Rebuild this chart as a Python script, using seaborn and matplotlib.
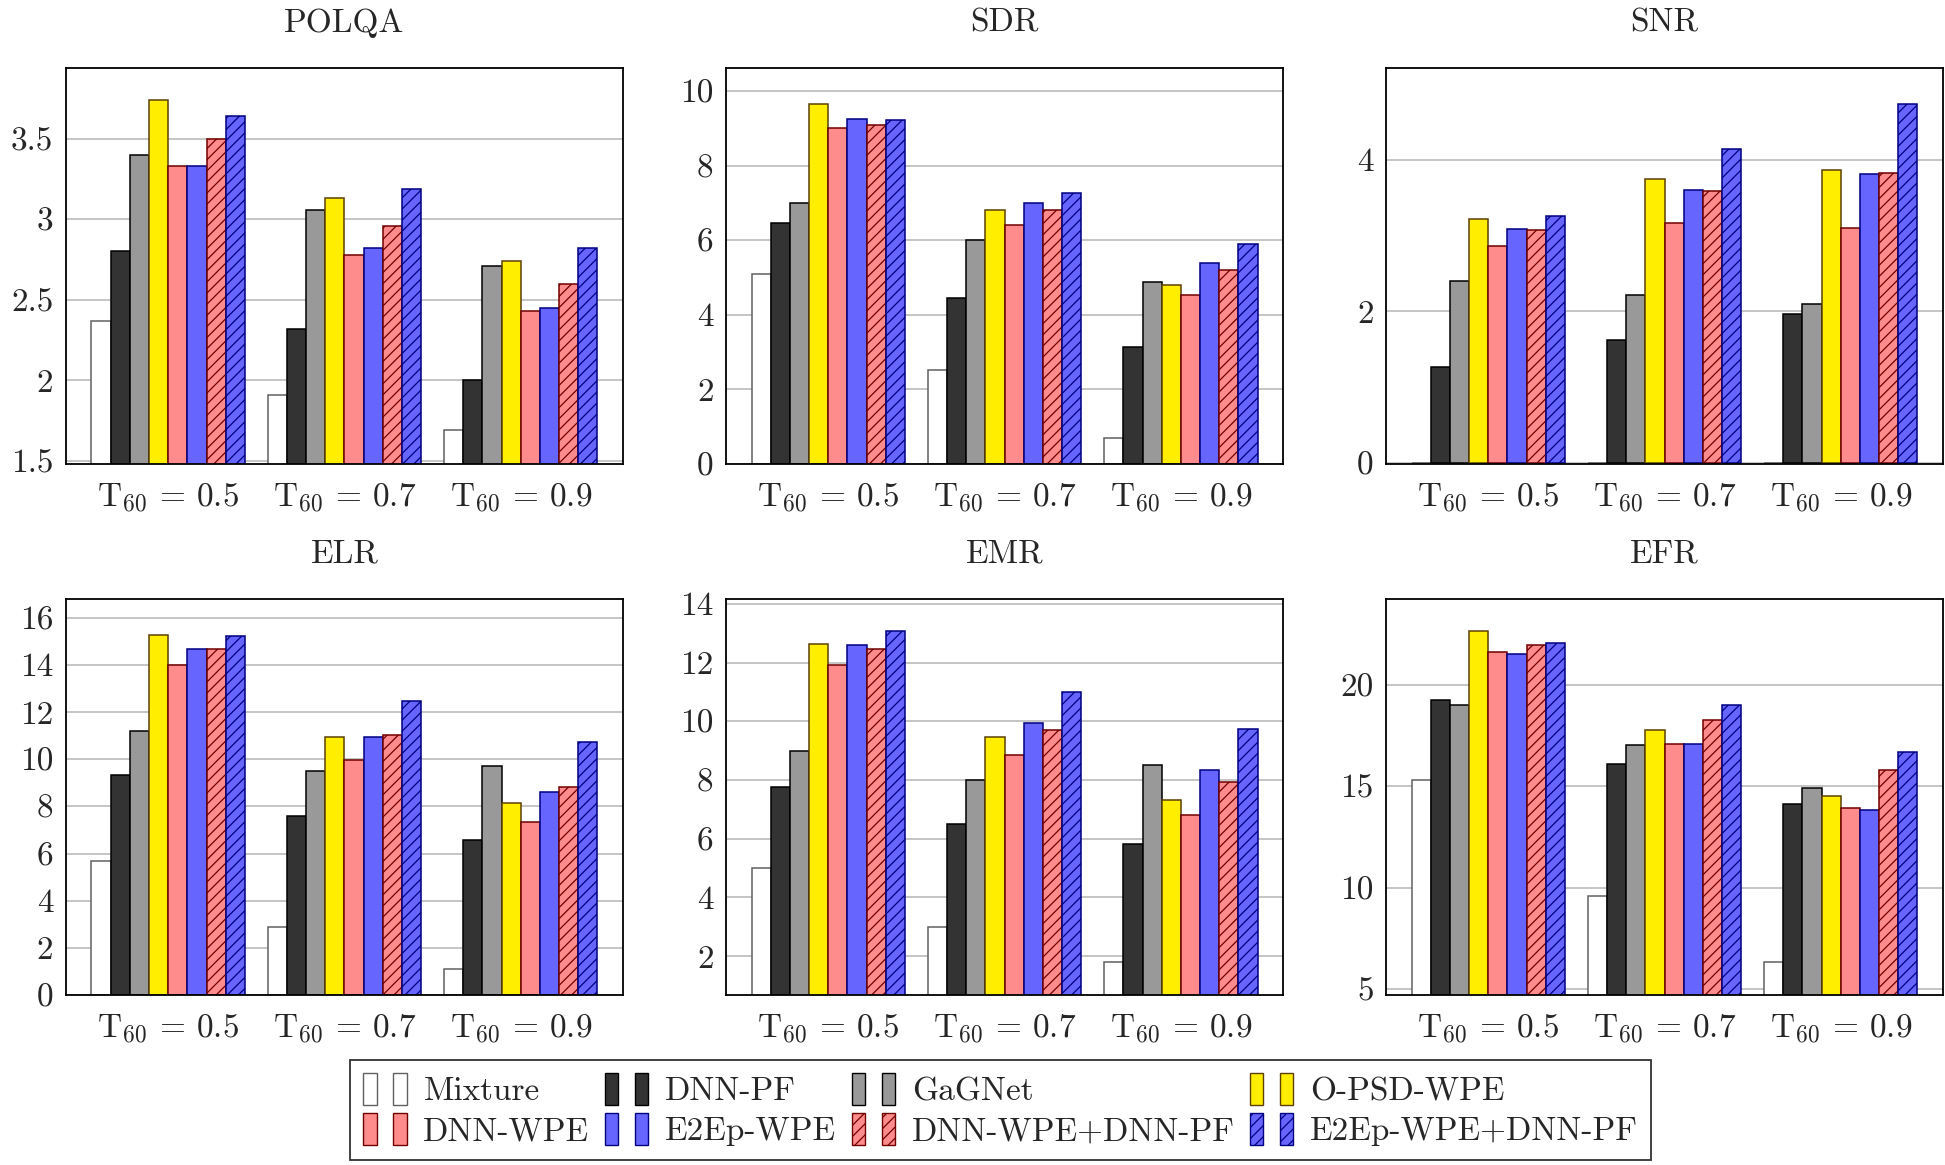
import numpy as np
import pandas as pd
import matplotlib
matplotlib.use("Agg")
import matplotlib.pyplot as plt
import seaborn as sns
from matplotlib.patches import Rectangle
from matplotlib.legend_handler import HandlerTuple
from matplotlib.ticker import MultipleLocator, FuncFormatter

# Métodos y condiciones de reverberación
methods = ["Mixture", "DNN-PF", "GaGNet", "O-PSD-WPE", "DNN-WPE", "E2Ep-WPE",
           "DNN-WPE+DNN-PF", "E2Ep-WPE+DNN-PF"]
conditions = [r"T$_{60}$ = 0.5", r"T$_{60}$ = 0.7", r"T$_{60}$ = 0.9"]

# valores (una fila por método, una columna por T60)
polqa = [[2.37, 1.91, 1.69], [2.80, 2.32, 2.00], [3.40, 3.06, 2.71], [3.74, 3.13, 2.74],
         [3.33, 2.78, 2.43], [3.33, 2.82, 2.45], [3.50, 2.96, 2.60], [3.64, 3.19, 2.82]]
sdr = [[5.10, 2.51, 0.70], [6.48, 4.46, 3.15], [7.01, 6.01, 4.89], [9.65, 6.82, 4.80],
       [9.02, 6.41, 4.54], [9.26, 7.01, 5.39], [9.09, 6.82, 5.20], [9.22, 7.28, 5.91]]
snr = [[0.0, 0.0, 0.0], [1.26, 1.62, 1.96], [2.40, 2.21, 2.10], [3.22, 3.75, 3.86],
       [2.86, 3.16, 3.10], [3.08, 3.60, 3.81], [3.07, 3.59, 3.82], [3.26, 4.14, 4.73]]
elr = [[5.68, 2.90, 1.09], [9.32, 7.58, 6.58], [11.18, 9.50, 9.70], [15.25, 10.93, 8.16],
       [14.01, 9.96, 7.34], [14.66, 10.94, 8.60], [14.66, 11.04, 8.81], [15.21, 12.47, 10.72]]
emr = [[4.99, 3.00, 1.80], [7.76, 6.50, 5.82], [9.00, 8.00, 8.51], [12.64, 9.45, 7.32],
       [11.92, 8.84, 6.82], [12.60, 9.95, 8.34], [12.48, 9.69, 7.92], [13.06, 11.00, 9.75]]
efr = [[15.31, 9.59, 6.32], [19.23, 16.09, 14.13], [19.01, 17.01, 14.90], [22.65, 17.76, 14.52],
       [21.61, 17.07, 13.95], [21.51, 17.07, 13.82], [21.99, 18.29, 15.79], [22.09, 19.01, 16.69]]

# estilo de las barras
face_colors = ["white", "#333333", "#999999", "#ffee00", "#ff8c8c", "#6666ff", "#ff8c8c", "#6666ff"]
edge_colors = ["#606060", "black", "black", "#5c4000", "#700000", "#000080", "#700000", "#000080"]
hatches = ["", "", "", "", "", "", "///", "///"]

sns.set_style("white")
plt.rcParams["font.family"] = "serif"
plt.rcParams["font.serif"] = ["cmr10", "DejaVu Serif"]
plt.rcParams["mathtext.fontset"] = "cm"
plt.rcParams["axes.formatter.use_mathtext"] = True
plt.rcParams["axes.unicode_minus"] = False
plt.rcParams["hatch.linewidth"] = 0.9
plt.rcParams["font.size"] = 24

panels = [
    ("POLQA", polqa, (1.48, 3.94), 0.5),
    ("SDR", sdr, (0, 10.63), 2),
    ("SNR", snr, (-0.015, 5.21), 2),
    ("ELR", elr, (0, 16.8), 2),
    ("EMR", emr, (0.67, 14.17), 2),
    ("EFR", efr, (4.7, 24.24), 5),
]

fig = plt.figure(figsize=(19.45, 11.65), dpi=100)
lefts = [0.0339, 0.3733, 0.7126]
bottoms = [0.6017, 0.1459]
w, h = 0.2864, 0.340

for k, (name, vals, ylim, step) in enumerate(panels):
    ax = fig.add_axes([lefts[k % 3], bottoms[k // 3], w, h])
    df = pd.DataFrame({
        "cond": np.tile(conditions, len(methods)),
        "method": np.repeat(methods, len(conditions)),
        "value": np.array(vals).ravel(),
    })
    sns.barplot(data=df, x="cond", y="value", hue="method", hue_order=methods,
                order=conditions, palette=face_colors, saturation=1, width=0.87,
                errorbar=None, legend=False, linewidth=1.1, ax=ax)
    for i, cont in enumerate(ax.containers):
        for bar in cont:
            bar.set_edgecolor(edge_colors[i])
            bar.set_hatch(hatches[i])
            bar.set_zorder(2)
    ax.set_xlim(-0.58, 2.58)
    ax.set_ylim(*ylim)
    ax.yaxis.set_major_locator(MultipleLocator(step))
    ax.yaxis.set_major_formatter(FuncFormatter(lambda v, p: f"{v:g}"))
    ax.grid(axis="y", color="#c0c0c0", linewidth=1.3, zorder=0)
    ax.set_axisbelow(True)
    ax.set_xlabel("")
    ax.set_ylabel("")
    ax.tick_params(axis="x", length=0, pad=12, labelsize=24)
    ax.tick_params(axis="y", length=0, pad=9, labelsize=24)
    for sp in ax.spines.values():
        sp.set_color("black")
        sp.set_linewidth(1.3)
        sp.set_zorder(3)
    ax.set_title(name, fontsize=24, pad=26)

# leyenda con dos rectangulitos por método, llenada por filas
handles = []
for i in range(len(methods)):
    p = Rectangle((0, 0), 1, 1, facecolor=face_colors[i], edgecolor=edge_colors[i],
                  hatch=hatches[i], linewidth=1.0)
    handles.append((p, p))
ncol = 4
order = [r * ncol + c for c in range(ncol) for r in range(2)]
leg = fig.legend([handles[i] for i in order], [methods[i] for i in order],
                 handler_map={tuple: HandlerTuple(ndivide=None, pad=0.5)},
                 ncol=ncol, loc="center", bbox_to_anchor=(0.18, 0.003, 0.669, 0.089),
                 mode="expand", frameon=True, fancybox=False, edgecolor="black",
                 borderaxespad=0, handlelength=1.3, handleheight=1.1, handletextpad=0.5,
                 columnspacing=1.0, labelspacing=0.2, fontsize=24)
leg.get_frame().set_linewidth(1.3)

fig.savefig("out.png", dpi=100)
